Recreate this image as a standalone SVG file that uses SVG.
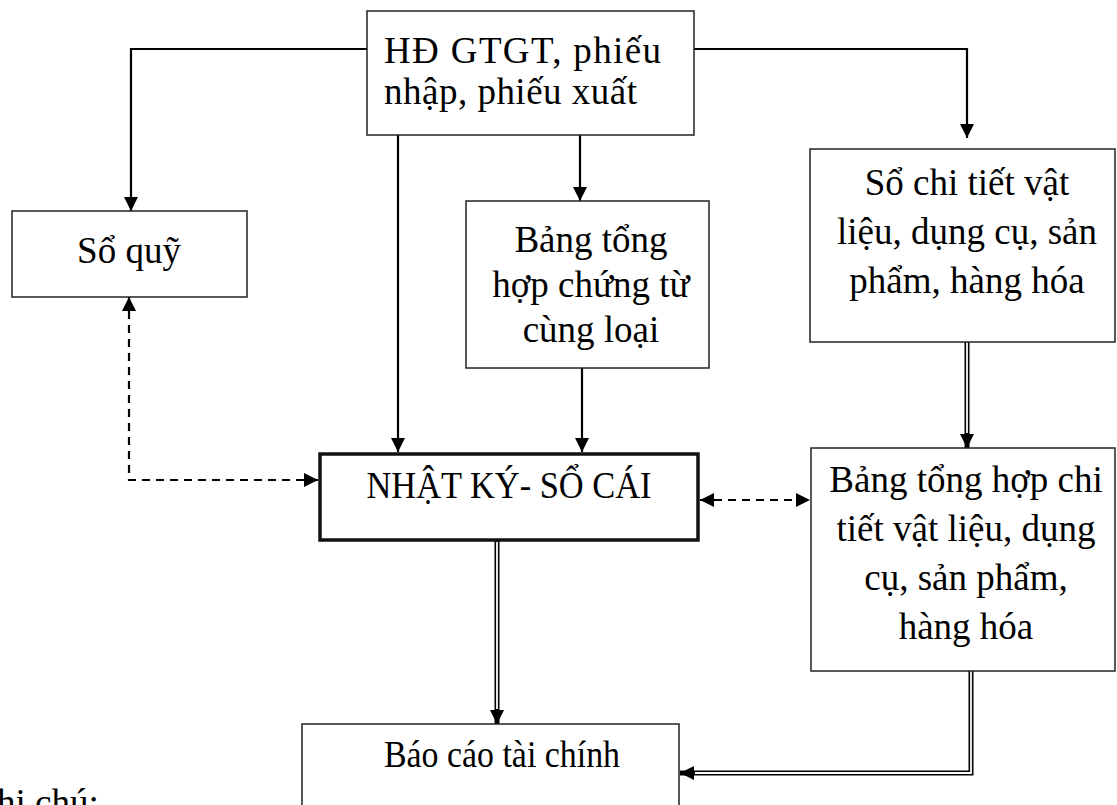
<svg xmlns="http://www.w3.org/2000/svg" width="1117" height="805" viewBox="0 0 1117 805">
  <style>
    .box { fill: #ffffff; stroke: #222222; stroke-width: 1.5; }
    .box-main { fill: #ffffff; stroke: #111111; stroke-width: 3.5; }
    .lbl { font-family: "Liberation Serif", "Times New Roman", serif; font-size: 37px; fill: #000000; }
    .mid { text-anchor: middle; }
    .solid { fill: none; stroke: #000000; stroke-width: 2.2; }
    .dash { fill: none; stroke: #000000; stroke-width: 2.2; stroke-dasharray: 8 6; }
    .dbl-outer { fill: none; stroke: #000000; stroke-width: 5; }
    .dbl-inner { fill: none; stroke: #ffffff; stroke-width: 1.8; }
  </style>
  <defs>
    <marker id="head" markerUnits="userSpaceOnUse" markerWidth="15" markerHeight="14" refX="14" refY="7" orient="auto-start-reverse">
      <path d="M0,0 L14,7 L0,14 z" fill="#000000"/>
    </marker>
  </defs>

  <rect width="1117" height="805" fill="#ffffff"/>

  <!-- connectors -->
  <g id="connectors">
    <!-- source documents to cash book -->
    <path class="solid" d="M367,49 H131 V211" marker-end="url(#head)"/>
    <!-- source documents to detailed ledger -->
    <path class="solid" d="M694,49 H967 V138" marker-end="url(#head)"/>
    <!-- source documents to summary of vouchers -->
    <path class="solid" d="M580,135 V201" marker-end="url(#head)"/>
    <!-- source documents to journal-ledger -->
    <path class="solid" d="M398,135 V452" marker-end="url(#head)"/>
    <!-- summary of vouchers to journal-ledger -->
    <path class="solid" d="M582,368 V452" marker-end="url(#head)"/>
    <!-- reconciliation: cash book <-> journal-ledger -->
    <path class="dash" d="M129,297 V480 H318" marker-start="url(#head)" marker-end="url(#head)"/>
    <!-- reconciliation: journal-ledger <-> detailed summary -->
    <path class="dash" d="M700,500 H810" marker-start="url(#head)" marker-end="url(#head)"/>
    <!-- double lines: period-end postings -->
    <path class="dbl-outer" d="M967,342 V448" marker-end="url(#head)"/>
    <path class="dbl-inner" d="M967,342 V433"/>
    <path class="dbl-outer" d="M497,540 V724" marker-end="url(#head)"/>
    <path class="dbl-inner" d="M497,542 V709"/>
    <path class="dbl-outer" d="M971,671 V773 H680" marker-end="url(#head)"/>
    <path class="dbl-inner" d="M971,671 V773 H695"/>
  </g>

  <g id="node-source">
    <rect class="box" x="367" y="11" width="327" height="124"/>
    <text class="lbl" x="384" y="63" textLength="277" lengthAdjust="spacing">HĐ GTGT, phiếu</text>
    <text class="lbl" x="384" y="104" textLength="253" lengthAdjust="spacing">nhập, phiếu xuất</text>
  </g>

  <g id="node-cashbook">
    <rect class="box" x="12" y="211" width="235" height="86"/>
    <text class="lbl mid" x="129" y="263">Sổ quỹ</text>
  </g>

  <g id="node-voucher-summary">
    <rect class="box" x="466" y="201" width="243" height="167"/>
    <text class="lbl mid" x="591" y="252">Bảng tổng</text>
    <text class="lbl mid" x="591" y="297">hợp chứng từ</text>
    <text class="lbl mid" x="591" y="342">cùng loại</text>
  </g>

  <g id="node-detail-ledger">
    <rect class="box" x="810" y="149" width="305" height="193"/>
    <text class="lbl mid" x="967" y="195">Sổ chi tiết vật</text>
    <text class="lbl mid" x="967" y="244">liệu, dụng cụ, sản</text>
    <text class="lbl mid" x="967" y="293">phẩm, hàng hóa</text>
  </g>

  <g id="node-journal-ledger">
    <rect class="box-main" x="320" y="454" width="378" height="86"/>
    <text class="lbl mid" x="509" y="498" textLength="285" lengthAdjust="spacingAndGlyphs">NHẬT KÝ- SỔ CÁI</text>
  </g>

  <g id="node-detail-summary">
    <rect class="box" x="811" y="448" width="304" height="223"/>
    <text class="lbl mid" x="966" y="492">Bảng tổng hợp chi</text>
    <text class="lbl mid" x="966" y="541">tiết vật liệu, dụng</text>
    <text class="lbl mid" x="966" y="590">cụ, sản phẩm,</text>
    <text class="lbl mid" x="966" y="639">hàng hóa</text>
  </g>

  <g id="node-financial-report">
    <rect class="box" x="302" y="724" width="377" height="100"/>
    <text class="lbl" x="384" y="767" textLength="236" lengthAdjust="spacingAndGlyphs">Báo cáo tài chính</text>
  </g>

  <text class="lbl" x="-3" y="815">hi chú:</text>
</svg>
